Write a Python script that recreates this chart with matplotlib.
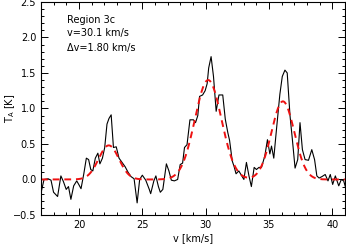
import numpy as np
from matplotlib import pyplot as plt
from matplotlib.ticker import MultipleLocator

vel = [17.00, 17.24, 17.56, 17.79, 17.99, 18.31, 18.57, 18.77, 18.99, 19.17,
       19.36, 19.58, 19.82, 19.98, 20.16, 20.38, 20.58, 20.76, 20.93, 21.09,
       21.29, 21.49, 21.65, 21.85, 22.03, 22.21, 22.37, 22.54, 22.72, 22.94,
       23.16, 23.40, 23.64, 23.88, 24.11, 24.35, 24.59, 24.79, 25.00, 25.27,
       25.55, 25.66, 25.91, 26.07, 26.27, 26.42, 26.62, 26.90, 27.10, 27.29,
       27.53, 27.79, 27.99, 28.18, 28.33, 28.53, 28.76, 29.04, 29.20, 29.38,
       29.52, 29.76, 29.96, 30.12, 30.24, 30.43, 30.62, 30.83, 31.05, 31.35,
       31.55, 31.75, 31.89, 32.10, 32.25, 32.40, 32.62, 32.82, 33.02, 33.22,
       33.42, 33.61, 33.83, 34.01, 34.21, 34.41, 34.67, 34.88, 35.07, 35.20,
       35.38, 35.60, 35.86, 36.05, 36.26, 36.44, 36.66, 36.85, 37.06, 37.27,
       37.45, 37.64, 37.85, 38.12, 38.38, 38.60, 38.78, 38.96, 39.18, 39.44,
       39.66, 39.84, 40.03, 40.24, 40.51, 40.71, 40.90, 41.09]
ta = [-0.19, 0.00, 0.01, -0.01, -0.18, -0.24, 0.05, -0.03, -0.14, -0.10,
      -0.28, -0.09, -0.02, -0.07, -0.13, 0.08, 0.30, 0.28, 0.14, 0.12,
      0.30, 0.37, 0.22, 0.30, 0.45, 0.78, 0.86, 0.91, 0.45, 0.46,
      0.30, 0.24, 0.18, 0.10, 0.04, 0.01, -0.33, 0.00, 0.06, -0.01,
      -0.14, -0.20, -0.02, 0.05, -0.10, -0.18, -0.14, 0.22, 0.12, -0.01,
      -0.02, 0.00, 0.21, 0.23, 0.45, 0.49, 0.84, 0.84, 0.80, 0.90,
      1.17, 1.19, 1.25, 1.35, 1.57, 1.73, 1.45, 0.96, 1.19, 1.19,
      0.85, 0.66, 0.55, 0.26, 0.18, 0.08, 0.12, 0.06, 0.00, 0.24,
      0.05, -0.10, 0.17, 0.14, 0.17, 0.17, 0.33, 0.56, 0.36, 0.47,
      0.30, 0.72, 1.20, 1.45, 1.54, 1.50, 0.90, 0.56, 0.16, 0.28,
      0.80, 0.42, 0.28, 0.27, 0.42, 0.28, 0.05, 0.02, 0.04, 0.07,
      -0.02, 0.07, -0.07, 0.05, -0.09, 0.00, -0.02, -0.14]

# Gaussian fit components: amplitude [K], centre [km/s], sigma [km/s]
amps    = [0.48, 1.40, 1.10]
centres = [22.35, 30.2, 36.1]
sigmas  = [0.80, 1.05, 0.90]

fs = 7

fig = plt.figure(figsize=(3.46, 2.44), dpi=100)
ax = fig.add_axes([0.1185, 0.119, 0.8785, 0.873])

vfit = np.linspace(17, 41, 600)
tfit = np.zeros_like(vfit)
for a, c, s in zip(amps, centres, sigmas):
    tfit += a * np.exp(-(vfit - c)**2 / (2 * s**2))

ax.plot(vel, ta, color="black", lw=0.8)
ax.plot(vfit, tfit, "--", color="#ee1111", lw=1.4, dashes=(3.5, 2.5))

ax.set_xlim(17, 41)
ax.set_ylim(-0.5, 2.5)
ax.xaxis.set_major_locator(MultipleLocator(5))
ax.xaxis.set_minor_locator(MultipleLocator(1))
ax.yaxis.set_major_locator(MultipleLocator(0.5))
ax.yaxis.set_minor_locator(MultipleLocator(0.1))
ax.tick_params(which="both", direction="in", top=True, right=True,
               labelsize=fs, width=0.7)
ax.tick_params(which="major", length=5)
ax.tick_params(which="minor", length=2.5)
for sp in ax.spines.values():
    sp.set_linewidth(0.8)

ax.set_xlabel("v [km/s]", fontsize=fs, labelpad=2)
ax.set_ylabel(r"T$_\mathrm{A}$ [K]", fontsize=fs)
ax.yaxis.set_label_coords(-0.08, 0.5)

ax.text(0.085, 0.915, "Region 3c", transform=ax.transAxes, fontsize=fs, va="center")
ax.text(0.085, 0.852, "v=30.1 km/s", transform=ax.transAxes, fontsize=fs, va="center")
ax.text(0.085, 0.784, "\u0394v=1.80 km/s", transform=ax.transAxes, fontsize=fs, va="center")

plt.savefig("out.png", dpi=100)
